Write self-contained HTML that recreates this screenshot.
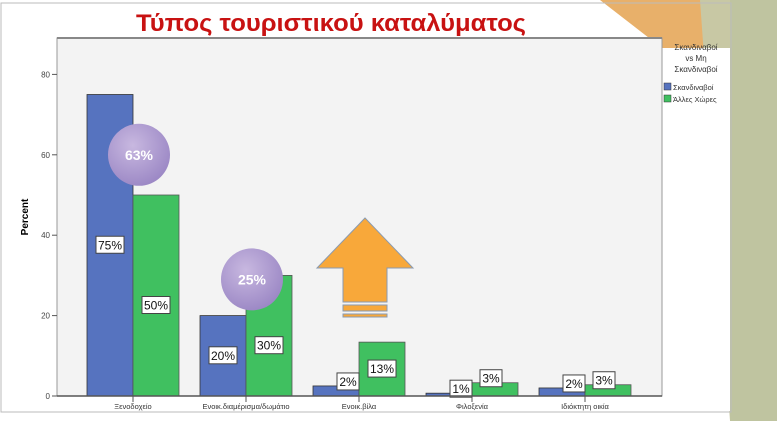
<!DOCTYPE html>
<html><head><meta charset="utf-8"><style>
body{margin:0;width:777px;height:421px;overflow:hidden;background:#fff;font-family:"Liberation Sans",sans-serif}
</style></head><body>
<svg id="s" width="777" height="421" xmlns="http://www.w3.org/2000/svg">
<defs>
<radialGradient id="cg" cx="0.4" cy="0.35" r="0.7"><stop offset="0" stop-color="#c8b8e0"/><stop offset="1" stop-color="#9a86c4"/></radialGradient>
</defs>
<polygon points="600,0 777,0 777,421 730,421 730,48 662,48" fill="#e8b06a"/>
<polygon points="700,0 777,0 777,421 730,421" fill="#c8c8a4"/>
<rect x="730" y="0" width="47" height="421" fill="#bfc4a0"/>
<rect x="1" y="3" width="730" height="409" fill="none" stroke="#bbb"/>
<rect x="662" y="48" width="68" height="363" fill="#fff"/>
<text x="136" y="31" font-size="24" font-weight="bold" fill="#c81212" textLength="390" lengthAdjust="spacingAndGlyphs" font-family="Liberation Sans, sans-serif">Τύπος τουριστικού καταλύματος</text>
<rect x="57" y="38" width="605" height="358" fill="#f3f3f3" stroke="#999"/>
<line x1="57" y1="38" x2="662" y2="38" stroke="#888" stroke-width="2"/>
<text transform="translate(28,217) rotate(-90)" font-size="10" font-weight="bold" text-anchor="middle">Percent</text>
<g id="g"></g>
<g font-size="8" fill="#333">
<text x="696" y="50" text-anchor="middle">Σκανδιναβοί</text>
<text x="696" y="61" text-anchor="middle">vs Μη</text>
<text x="696" y="72" text-anchor="middle">Σκανδιναβοί</text>
<rect x="664" y="83" width="7" height="7" fill="#5673bf" stroke="#333" stroke-width="0.5"/>
<text x="673" y="90" font-size="7.5">Σκανδιναβοί</text>
<rect x="664" y="95" width="7" height="7" fill="#40c060" stroke="#333" stroke-width="0.5"/>
<text x="673" y="102" font-size="7.5">Άλλες Χώρες</text>
</g>
<g fill="#f8a83a" stroke="#8a9ab0" stroke-width="1">
<polygon points="365,218 413,268 387,268 387,302 343,302 343,268 317,268"/>
<rect x="343" y="305" width="44" height="6"/>
<rect x="343" y="314" width="44" height="3"/>
</g>
</svg>
<script>
const categories=["Ξενοδοχείο","Ενοικ.διαμέρισμα/δωμάτιο","Ενοικ.βίλα","Φιλοξενία","Ιδιόκτητη οικία"];
const scandValues=[75,20,2.5,0.7,2];
const otherValues=[50,30,13.4,3.3,2.8];
const scandLabels=["75%","20%","2%","1%","2%"];
const otherLabels=["50%","30%","13%","3%","3%"];
const yTicks=[0,20,40,60,80];
const bubbles=[{cat:0,y:60,t:"63%"},{cat:1,y:29,t:"25%"}];
const NS="http://www.w3.org/2000/svg";
const g=document.getElementById('g');
const y=v=>396-v*4.02;
const gx=i=>87+i*113;
function el(t,a,p){const e=document.createElementNS(NS,t);for(const k in a)e.setAttribute(k,a[k]);(p||g).appendChild(e);return e;}
yTicks.forEach(t=>{
 const l=el('line',{x1:52,x2:57,y1:y(t),y2:y(t),stroke:'#555'});
 
 
 const tx=el('text',{x:50,y:y(t)+3,'font-size':8,'text-anchor':'end',fill:'#444'});tx.textContent=t;
 
 
});
function label(cx,cy,txt){
 const w=txt.length>2?28:22;
 const r=el('rect',{x:cx-w/2,y:cy-9,width:w,height:17,fill:'#fff',stroke:'#444'});
 
 
 const t=el('text',{x:cx,y:cy+4,'font-size':12,'text-anchor':'middle',fill:'#111'});t.textContent=txt;
 
 
}
categories.forEach((c,i)=>{
 const x=gx(i);
 const b1=el('rect',{x:x,y:y(scandValues[i]),width:46,height:396-y(scandValues[i]),fill:'#5673bf',stroke:'#333','stroke-width':0.8});
 
 
 const b2=el('rect',{x:x+46,y:y(otherValues[i]),width:46,height:396-y(otherValues[i]),fill:'#40c060',stroke:'#555','stroke-width':0.8});
 
 
 el('line',{x1:x+46,x2:x+46,y1:396,y2:402,stroke:'#555'});
 const t=el('text',{x:x+46,y:409,'font-size':7.5,'text-anchor':'middle',fill:'#333'});t.textContent=c;
 
 
 const sl=scandValues[i]>15?y(scandValues[i]/2):y(scandValues[i])-4;
 const ol=otherValues[i]>15?y(otherValues[i]/2)+10:(otherValues[i]>8?y(otherValues[i]/2):y(otherValues[i])-4);
 label(x+23+(scandValues[i]>15?0:12),sl,scandLabels[i]);
 label(x+69+(otherValues[i]>8?0:-4),ol,otherLabels[i]);
});
el('line',{x1:57,x2:662,y1:396,y2:396,stroke:'#555','stroke-width':1.5});
bubbles.forEach(b=>{
 const cx=gx(b.cat)+52,cy=y(b.y);
 const c=el('circle',{cx:cx,cy:cy,r:31,fill:'url(#cg)'});
 
 
 const t=el('text',{x:cx,y:cy+5,'font-size':14,'font-weight':'bold','text-anchor':'middle',fill:'#fff'});t.textContent=b.t;
 
 
});
</script>
</body></html>
